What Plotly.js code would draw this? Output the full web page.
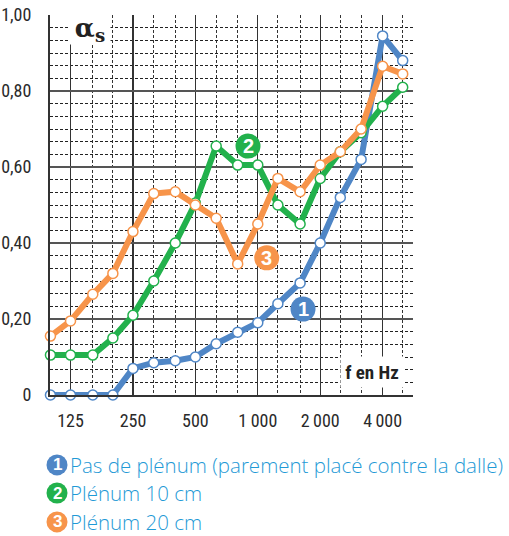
<!DOCTYPE html>
<html>
<head>
<meta charset="utf-8">
<script src="https://cdn.plot.ly/plotly-3.0.1.min.js"></script>
<style>
  html, body { margin: 0; padding: 0; background: #fff; }
  #chart { width: 509px; height: 536px; }
</style>
</head>
<body>
<div id="chart"></div>
<script>
// ---- Data ----
const freqs = [100, 125, 160, 200, 250, 315, 400, 500, 630, 800, 1000, 1250, 1600, 2000, 2500, 3150, 4000, 5000];
const alphaNoPlenum = [0, 0, 0, 0, 0.07, 0.085, 0.09, 0.10, 0.135, 0.165, 0.19, 0.24, 0.295, 0.40, 0.52, 0.62, 0.945, 0.88];
const alphaPlenum10 = [0.105, 0.105, 0.105, 0.15, 0.21, 0.30, 0.40, 0.505, 0.655, 0.605, 0.605, 0.50, 0.45, 0.57, 0.64, 0.69, 0.76, 0.81];
const alphaPlenum20 = [0.155, 0.195, 0.265, 0.32, 0.43, 0.53, 0.535, 0.50, 0.465, 0.345, 0.45, 0.57, 0.535, 0.605, 0.64, 0.70, 0.865, 0.845];
const seriesNames = ["Pas de plénum (parement placé contre la dalle)", "Plénum 10 cm", "Plénum 20 cm"];
const seriesNumbers = ["1", "2", "3"];
const xTickVals = [125, 250, 500, 1000, 2000, 4000];
const xTickText = ["125", "250", "500", "1\u2009000", "2\u2009000", "4\u2009000"];
const xMinorVals = [160, 200, 315, 400, 630, 800, 1250, 1600, 2500, 3150, 5000];
const yTickVals = [0, 0.2, 0.4, 0.6, 0.8, 1.0];
const yTickText = ["0", "0,20", "0,40", "0,60", "0,80", "1,00"];

// ---- Styles ----
const colors = ["#4f86c6", "#22b14c", "#f7944a"];
const legendTextColor = "#1f9ad6";
const condensed = "Roboto Condensed, DejaVu Sans Condensed, sans-serif";

// fine horizontal grid: 12 subdivisions per 0.2 band, alternating dark / grey
const darkMinor = [], greyMinor = [];
for (let k = 1; k < 60; k++) {
  if (k % 12 === 0) continue;
  (k % 2 === 0 ? darkMinor : greyMinor).push(k / 60);
}

const allSeries = [alphaNoPlenum, alphaPlenum10, alphaPlenum20];
const traces = allSeries.map((vals, i) => ({
  type: "scatter",
  mode: "lines+markers",
  x: freqs,
  y: vals,
  name: seriesNames[i],
  cliponaxis: false,
  line: { color: colors[i], width: 6 },
  marker: { size: 10, color: "#ffffff", line: { color: colors[i], width: 1.5 } },
  hoverinfo: "x+y"
}));

const xRange = [Math.log10(99.5), Math.log10(5605)];

const chartLabelPos = [[0.697, 0.226], [0.5455, 0.655], [0.597, 0.361]];
const legendY = [-0.184, -0.258, -0.334];
const legendCircleX = 0.0193;
const legendTextX = 0.049;

const shapes = [];
const annotations = [];

seriesNumbers.forEach((num, i) => {
  shapes.push({
    type: "circle", xref: "paper", yref: "paper",
    xsizemode: "pixel", ysizemode: "pixel",
    xanchor: chartLabelPos[i][0], yanchor: chartLabelPos[i][1],
    x0: -12.5, x1: 12.5, y0: -12.5, y1: 12.5,
    fillcolor: colors[i], line: { width: 0 }, layer: "above"
  });
  annotations.push({
    xref: "paper", yref: "paper", x: chartLabelPos[i][0], y: chartLabelPos[i][1],
    text: "<b>" + num + "</b>", showarrow: false,
    font: { family: "Liberation Sans, Arial, sans-serif", size: 20, color: "#ffffff" },
    xanchor: "center", yanchor: "middle"
  });
  shapes.push({
    type: "circle", xref: "paper", yref: "paper",
    xsizemode: "pixel", ysizemode: "pixel",
    xanchor: legendCircleX, yanchor: legendY[i],
    x0: -10.5, x1: 10.5, y0: -10.5, y1: 10.5,
    fillcolor: colors[i], line: { width: 0 }
  });
  annotations.push({
    xref: "paper", yref: "paper", x: legendCircleX, y: legendY[i],
    text: "<b>" + num + "</b>", showarrow: false,
    font: { family: "Liberation Sans, Arial, sans-serif", size: 17, color: "#ffffff" },
    xanchor: "center", yanchor: "middle"
  });
  annotations.push({
    xref: "paper", yref: "paper", x: legendTextX, y: legendY[i],
    text: seriesNames[i], showarrow: false,
    font: { family: "Open Sans, sans-serif", size: 20.5, color: legendTextColor, weight: 300 },
    xanchor: "left", yanchor: "middle"
  });
});

annotations.push({
  xref: "paper", yref: "paper", x: 0.11, y: 0.963,
  text: "<b>α</b><sub><b>s</b></sub>", showarrow: false,
  font: { family: "DejaVu Serif, Liberation Serif, serif", size: 26, color: "#222" },
  bgcolor: "#ffffff", width: 38, height: 27, xanchor: "center", yanchor: "middle"
});
annotations.push({
  xref: "paper", yref: "paper", x: 0.887, y: 0.061,
  text: "<b>f en Hz</b>", showarrow: false,
  font: { family: condensed, size: 19, color: "#222" },
  bgcolor: "#ffffff", width: 60, height: 28, xanchor: "center", yanchor: "middle"
});

const tickFont = { family: condensed, size: 18, color: "#2a2a2a" };

const layout = {
  width: 509, height: 536,
  margin: { l: 50, r: 96, t: 15, b: 141 },
  paper_bgcolor: "#ffffff", plot_bgcolor: "#ffffff",
  showlegend: false,
  xaxis: {
    type: "log", range: xRange,
    tickmode: "array", tickvals: xTickVals, ticktext: xTickText,
    ticks: "", ticklabelstandoff: 8,
    tickfont: tickFont,
    showgrid: true, gridcolor: "#333", gridwidth: 1.3,
    showline: true, linecolor: "#333", linewidth: 2, zeroline: false,
    minor: { tickmode: "array", tickvals: xMinorVals, showgrid: true, gridcolor: "#333", griddash: "3px,2px", gridwidth: 1, ticks: "" },
    fixedrange: true
  },
  yaxis: {
    range: [0, 1],
    tickmode: "array", tickvals: yTickVals, ticktext: yTickText,
    ticks: "", ticklabelstandoff: 13,
    tickfont: tickFont,
    showgrid: true, gridcolor: "#555", gridwidth: 1.6,
    showline: true, linecolor: "#333", linewidth: 2, zeroline: false,
    minor: { tickmode: "array", tickvals: darkMinor, showgrid: true, gridcolor: "#222", griddash: "3px,2px", gridwidth: 1, ticks: "" },
    fixedrange: true
  },
  yaxis2: {
    overlaying: "y", side: "right", anchor: "x", range: [0, 1],
    tickmode: "array", tickvals: greyMinor, showticklabels: false, ticks: "",
    showgrid: true, gridcolor: "#8a8a8a", griddash: "5px,2px", gridwidth: 1,
    showline: true, linecolor: "#777", linewidth: 2, zeroline: false, fixedrange: true
  },
  xaxis2: {
    overlaying: "x", side: "top", anchor: "y", type: "log", range: xRange,
    tickmode: "array", tickvals: [], showticklabels: false, ticks: "",
    showgrid: false, showline: true, linecolor: "#777", linewidth: 2, zeroline: false, fixedrange: true
  },
  shapes: shapes,
  annotations: annotations
};

Plotly.newPlot("chart", traces, layout, { displayModeBar: false, staticPlot: true });
</script>
</body>
</html>
